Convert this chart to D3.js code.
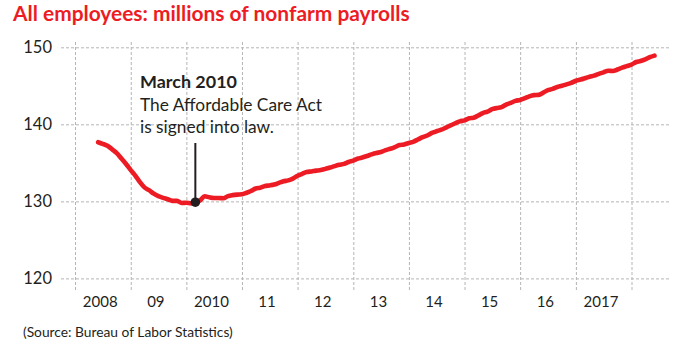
<!DOCTYPE html>
<html>
<head>
<meta charset="utf-8">
<script src="https://cdn.jsdelivr.net/npm/d3@7"></script>
<style>
  html, body { margin: 0; padding: 0; background: #fff; }
  svg { display: block; }
  text { font-family: Lato, "Open Sans", "Noto Sans", sans-serif; fill: #231f20; }
</style>
</head>
<body>
<svg id="chart" width="686" height="356"></svg>
<script>
// ---- Data (millions of nonfarm payroll employees, monthly, Jun 2008 – Jun 2018) ----
const seriesStart = "2008-06";
const payrolls2008 = [137.68, 137.47, 137.21, 136.75, 136.27, 135.55, 134.85];
const payrolls2009 = [134.06, 133.32, 132.53, 131.82, 131.45, 131.00, 130.67, 130.46, 130.27, 130.07, 130.06, 129.79];
const payrolls2010 = [129.82, 129.73, 129.89, 130.14, 130.66, 130.52, 130.44, 130.44, 130.40, 130.68, 130.81, 130.88];
const payrolls2011 = [130.92, 131.12, 131.35, 131.67, 131.77, 132.00, 132.07, 132.18, 132.40, 132.60, 132.73, 132.96];
const payrolls2012 = [133.32, 133.58, 133.81, 133.89, 133.99, 134.06, 134.22, 134.39, 134.58, 134.74, 134.87, 135.11];
const payrolls2013 = [135.30, 135.56, 135.70, 135.89, 136.10, 136.28, 136.40, 136.65, 136.83, 137.05, 137.32, 137.39];
const payrolls2014 = [137.58, 137.76, 138.03, 138.34, 138.55, 138.88, 139.10, 139.30, 139.58, 139.86, 140.14, 140.38];
const payrolls2015 = [140.52, 140.78, 140.86, 141.15, 141.47, 141.65, 141.97, 142.11, 142.24, 142.57, 142.78, 143.05];
const payrolls2016 = [143.16, 143.39, 143.63, 143.79, 143.82, 144.12, 144.44, 144.60, 144.85, 145.00, 145.19, 145.37];
const payrolls2017 = [145.66, 145.81, 145.98, 146.18, 146.32, 146.56, 146.75, 146.95, 146.92, 147.12, 147.36, 147.55];
const payrolls2018 = [147.76, 148.09, 148.22, 148.43, 148.71, 148.92];

const yTicks = [120, 130, 140, 150];
const gridYears = [2008, 2009, 2010, 2011, 2012, 2013, 2014, 2015, 2016, 2017, 2018];
const xTickLabels = ["2008", "09", "2010", "11", "12", "13", "14", "15", "16", "2017"];

const titleText = "All employees: millions of nonfarm payrolls";
const annotationDate = "2010-03";
const annotationLines = ["March 2010", "The Affordable Care Act", "is signed into law."];
const sourceText = "(Source: Bureau of Labor Statistics)";

// ---- Build series ----
const parseMonth = d3.timeParse("%Y-%m");
const allValues = [].concat(payrolls2008, payrolls2009, payrolls2010, payrolls2011, payrolls2012,
  payrolls2013, payrolls2014, payrolls2015, payrolls2016, payrolls2017, payrolls2018);
const start = parseMonth(seriesStart);
const data = allValues.map((v, i) => ({ date: d3.timeMonth.offset(start, i), value: v }));

// ---- Layout ----
const RED = "#ed1c24";
const GRID = "#b5b5b5";
const svg = d3.select("#chart");

const x = d3.scaleTime()
  .domain([new Date(2008, 0, 1), new Date(2018, 0, 1)])
  .range([75, 631.5]);
const y = d3.scaleLinear()
  .domain([120, 150])
  .range([278.4, 47.3]);

const gridLeft = 61, gridRight = 670, gridTop = 42, gridBottom = 290;

// horizontal grid + y labels
const yAxis = d3.axisLeft(y)
  .tickValues(yTicks)
  .tickSize(-(gridRight - gridLeft))
  .tickPadding(9)
  .tickFormat(d3.format("d"));
const gy = svg.append("g")
  .attr("transform", `translate(${gridLeft},0)`)
  .call(yAxis);
gy.select(".domain").remove();
gy.selectAll(".tick line")
  .attr("stroke", GRID).attr("stroke-width", 1).attr("stroke-dasharray", "3,2");
gy.selectAll(".tick text")
  .attr("font-size", 16.5).attr("fill", "#231f20")
  .style("font-family", "Lato, 'Open Sans', sans-serif");

// vertical grid
const xGrid = d3.axisBottom(x)
  .tickValues(gridYears.map(yr => new Date(yr, 0, 1)))
  .tickSize(-(gridBottom - gridTop))
  .tickFormat("");
const gx = svg.append("g")
  .attr("transform", `translate(0,${gridBottom})`)
  .call(xGrid);
gx.select(".domain").remove();
gx.selectAll(".tick line")
  .attr("stroke", GRID).attr("stroke-width", 1).attr("stroke-dasharray", "3,2");

// x labels at mid-year
const labelDates = xTickLabels.map((_, i) => new Date(gridYears[i], 6, 1));
const xLabelAxis = d3.axisBottom(x)
  .tickValues(labelDates)
  .tickSize(0)
  .tickPadding(0)
  .tickFormat((d, i) => xTickLabels[i]);
const gl = svg.append("g")
  .attr("transform", `translate(-3,296)`)
  .call(xLabelAxis);
gl.select(".domain").remove();
gl.selectAll(".tick text")
  .attr("font-size", 15).attr("fill", "#231f20")
  .style("font-family", "Lato, 'Open Sans', sans-serif");

// line
const line = d3.line()
  .x(d => x(d.date))
  .y(d => y(d.value))
  .curve(d3.curveMonotoneX);
svg.append("path")
  .datum(data)
  .attr("fill", "none")
  .attr("stroke", RED)
  .attr("stroke-width", 4.6)
  .attr("stroke-linecap", "round")
  .attr("stroke-linejoin", "round")
  .attr("d", line);

// annotation
const ann = data.find(d => d3.timeFormat("%Y-%m")(d.date) === annotationDate);
const ax = x(ann.date), ay = y(ann.value);
svg.append("line")
  .attr("x1", ax).attr("x2", ax)
  .attr("y1", 143).attr("y2", ay)
  .attr("stroke", "#231f20").attr("stroke-width", 2);
svg.append("circle")
  .attr("cx", ax).attr("cy", ay).attr("r", 4.8)
  .attr("fill", "#231f20");

function fitWidth(sel, target) {
  const w = sel.node().getComputedTextLength();
  const fs = parseFloat(sel.attr("font-size"));
  if (w > 0) sel.attr("font-size", (fs * target / w).toFixed(2));
}

const annX = 140;
const annBase = [88.3, 110.7, 132.8];
const annWidths = [97, 182, 134];
annotationLines.forEach((t, i) => {
  const tx = svg.append("text")
    .attr("x", annX).attr("y", annBase[i])
    .attr("font-size", 17)
    .attr("font-weight", i === 0 ? 700 : 400)
    .text(t);
  fitWidth(tx, annWidths[i]);
});

// title
const title = svg.append("text")
  .attr("x", 13).attr("y", 21)
  .attr("font-size", 20)
  .attr("font-weight", 700)
  .style("fill", RED)
  .text(titleText);
fitWidth(title, 397);

// source
const src = svg.append("text")
  .attr("x", 23).attr("y", 337)
  .attr("font-size", 13)
  .text(sourceText);
fitWidth(src, 210);
</script>
</body>
</html>
